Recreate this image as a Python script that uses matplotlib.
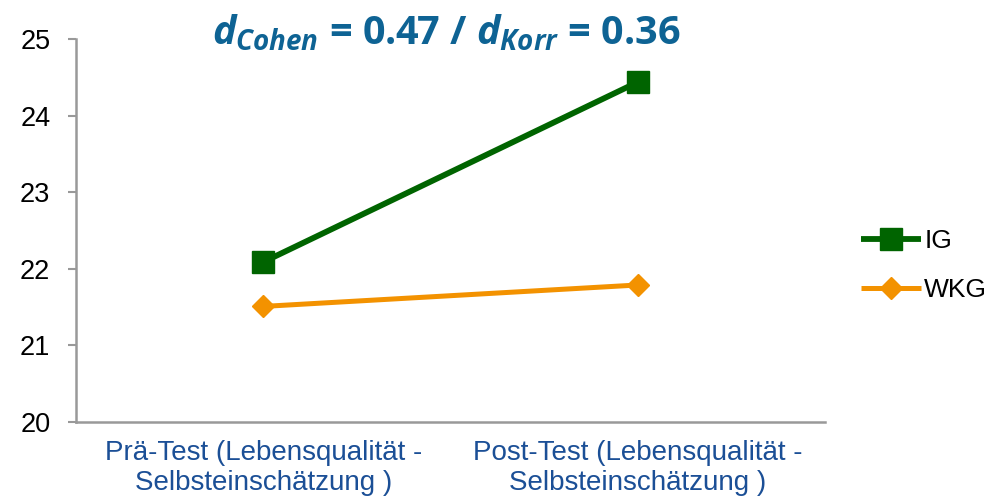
import matplotlib
matplotlib.use("Agg")
import matplotlib.pyplot as plt

categories = ["Prä-Test (Lebensqualität -\nSelbsteinschätzung )",
              "Post-Test (Lebensqualität -\nSelbsteinschätzung )"]
ig_values = [22.09, 24.44]
wkg_values = [21.51, 21.79]
series_names = ["IG", "WKG"]
y_ticks = [20, 21, 22, 23, 24, 25]

plt.rcParams['font.family'] = ['Liberation Sans', 'DejaVu Sans']
plt.rcParams['mathtext.fontset'] = 'custom'
plt.rcParams['mathtext.it'] = 'Open Sans:italic:bold'
plt.rcParams['mathtext.rm'] = 'Open Sans:bold'
plt.rcParams['mathtext.bf'] = 'Open Sans:bold'

fig = plt.figure(figsize=(9.94, 5.03), dpi=100)
ax = fig.add_axes([0.0765, 0.161, 0.7535, 0.761])

x = [0.5, 1.5]
ax.plot(x, ig_values, color='#006400', lw=4.2, marker='s', markersize=15.5,
        label=series_names[0], solid_capstyle='butt')
ax.plot(x, wkg_values, color='#F39200', lw=3.6, marker='D', markersize=11,
        label=series_names[1], solid_capstyle='butt')

ax.set_xlim(0, 2)
ax.set_ylim(20, 25)
ax.set_yticks(y_ticks)
ax.set_yticklabels([str(t) for t in y_ticks], fontsize=19.5, color='black')
ax.set_xticks(x)
ax.set_xticklabels(categories, fontsize=20, color='#1B4F96', linespacing=1.2)
ax.tick_params(axis='x', length=0, pad=13)
ax.tick_params(axis='y', length=5.5, width=1.5, color='#999999', pad=13)

for s in ['top', 'right']:
    ax.spines[s].set_visible(False)
for s in ['left', 'bottom']:
    ax.spines[s].set_color('#999999')
    ax.spines[s].set_linewidth(1.8)

fig.text(0.449, 0.934,
         r"$\mathit{d}_{\mathit{Cohen}}$ = 0.47 / $\mathit{d}_{\mathit{Korr}}$ = 0.36",
         family='Open Sans', fontweight='bold', fontsize=28.5, color='#0E6394',
         ha='center', va='center')

fig.legend(loc='center left', bbox_to_anchor=(0.866, 0.472), frameon=False,
           fontsize=19, handlelength=2.3, handletextpad=0.1, labelspacing=0.95,
           borderaxespad=0, borderpad=0)

fig.savefig("out.png", dpi=100)
